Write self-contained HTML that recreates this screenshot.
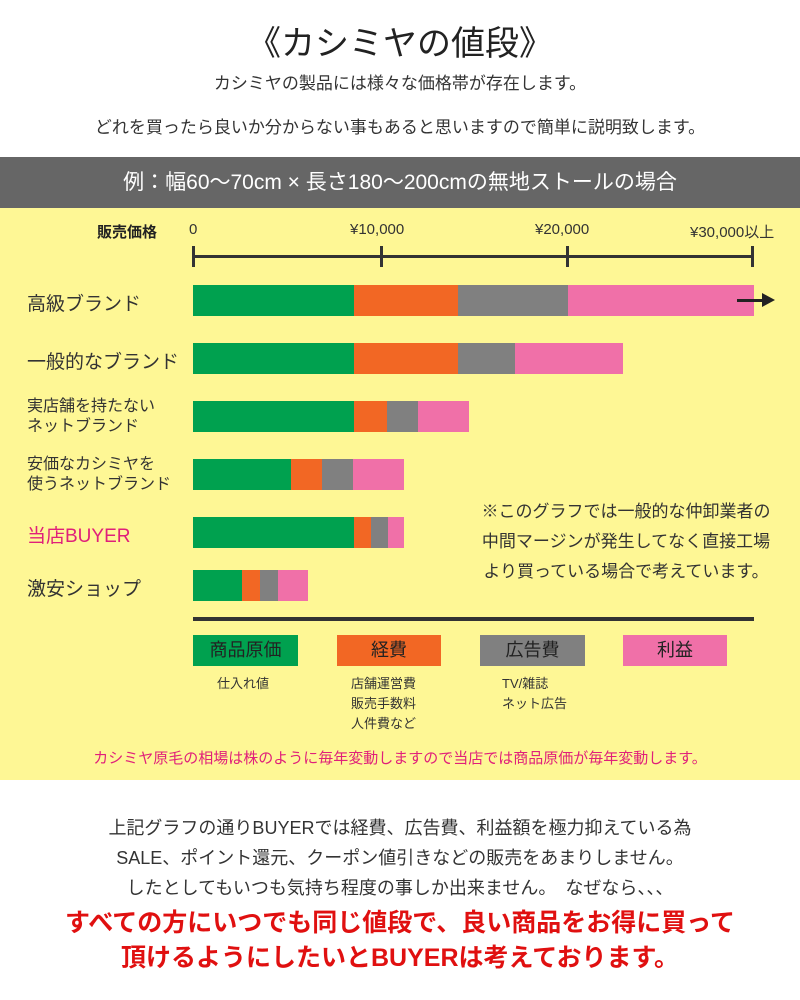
<!DOCTYPE html>
<html><head><meta charset="utf-8"><style>
body{margin:0;width:800px;height:1000px;background:#fff;font-family:"Liberation Sans","Noto Sans CJK JP",sans-serif;color:#333;position:relative;overflow:hidden}
.a{position:absolute;white-space:nowrap}
.c{left:0;width:800px;text-align:center}
.b{position:absolute;height:31px}
.g{background:#00a14f}.o{background:#f26724}.y{background:#808080}.p{background:#f070a8}
</style></head><body>
<div class="a c" style="top:16px;font-size:34px;color:#222">《カシミヤの値段》</div>
<div class="a c" style="top:69px;font-size:17px">カシミヤの製品には様々な価格帯が存在します。</div>
<div class="a c" style="top:113px;font-size:17px">どれを買ったら良いか分からない事もあると思いますので簡単に説明致します。</div>
<div class="a" style="top:157px;left:0;width:800px;height:51px;background:#666;color:#fff;font-size:21px;text-align:center;line-height:51px">例：幅60〜70cm × 長さ180〜200cmの無地ストールの場合</div>
<div class="a" style="top:208px;left:0;width:800px;height:572px;background:#fef795"></div>
<div class="a" style="top:221px;left:97px;font-size:15px;font-weight:bold;color:#222">販売価格</div>
<div class="a" style="top:221px;left:189px;font-size:15px">0</div>
<div class="a" style="top:221px;left:350px;font-size:15px">¥10,000</div>
<div class="a" style="top:221px;left:535px;font-size:15px">¥20,000</div>
<div class="a" style="top:221px;left:690px;font-size:15px">¥30,000以上</div>
<div class="a" style="top:255px;left:193px;width:561px;height:3px;background:#333"></div>
<div class="a" style="top:246px;left:192px;width:3px;height:21px;background:#333"></div>
<div class="a" style="top:246px;left:380px;width:3px;height:21px;background:#333"></div>
<div class="a" style="top:246px;left:566px;width:3px;height:21px;background:#333"></div>
<div class="a" style="top:246px;left:751px;width:3px;height:21px;background:#333"></div>

<div class="a" style="top:289px;left:27px;font-size:19px">高級ブランド</div>
<div class="b g" style="top:285px;left:193px;width:161px"></div><div class="b o" style="top:285px;left:354px;width:104px"></div><div class="b y" style="top:285px;left:458px;width:110px"></div><div class="b p" style="top:285px;left:568px;width:186px"></div>
<div class="a" style="top:299px;left:737px;width:26px;height:3px;background:#222"></div>
<div class="a" style="top:293px;left:762px;width:0;height:0;border-left:13px solid #222;border-top:7px solid transparent;border-bottom:7px solid transparent"></div>

<div class="a" style="top:347px;left:27px;font-size:19px">一般的なブランド</div>
<div class="b g" style="top:343px;left:193px;width:161px"></div><div class="b o" style="top:343px;left:354px;width:104px"></div><div class="b y" style="top:343px;left:458px;width:57px"></div><div class="b p" style="top:343px;left:515px;width:108px"></div>

<div class="a" style="top:397px;left:27px;font-size:16px;line-height:20px">実店舗を持たない<br>ネットブランド</div>
<div class="b g" style="top:401px;left:193px;width:161px"></div><div class="b o" style="top:401px;left:354px;width:33px"></div><div class="b y" style="top:401px;left:387px;width:31px"></div><div class="b p" style="top:401px;left:418px;width:51px"></div>

<div class="a" style="top:455px;left:27px;font-size:16px;line-height:20px">安価なカシミヤを<br>使うネットブランド</div>
<div class="b g" style="top:459px;left:193px;width:98px"></div><div class="b o" style="top:459px;left:291px;width:31px"></div><div class="b y" style="top:459px;left:322px;width:31px"></div><div class="b p" style="top:459px;left:353px;width:51px"></div>

<div class="a" style="top:521px;left:27px;font-size:19px;color:#e0207a">当店BUYER</div>
<div class="b g" style="top:517px;left:193px;width:161px"></div><div class="b o" style="top:517px;left:354px;width:17px"></div><div class="b y" style="top:517px;left:371px;width:17px"></div><div class="b p" style="top:517px;left:388px;width:16px"></div>

<div class="a" style="top:574px;left:27px;font-size:19px">激安ショップ</div>
<div class="b g" style="top:570px;left:193px;width:49px"></div><div class="b o" style="top:570px;left:242px;width:18px"></div><div class="b y" style="top:570px;left:260px;width:18px"></div><div class="b p" style="top:570px;left:278px;width:30px"></div>

<div class="a" style="top:497px;left:458px;width:336px;text-align:center;font-size:17px;line-height:30px">※このグラフでは一般的な仲卸業者の<br>中間マージンが発生してなく直接工場<br>より買っている場合で考えています。</div>

<div class="a" style="top:617px;left:193px;width:561px;height:4px;background:#333"></div>
<div class="b g" style="top:635px;left:193px;width:105px;text-align:center;font-size:18px;line-height:31px;color:#222">商品原価</div>
<div class="b o" style="top:635px;left:337px;width:104px;text-align:center;font-size:18px;line-height:31px;color:#222">経費</div>
<div class="b y" style="top:635px;left:480px;width:105px;text-align:center;font-size:18px;line-height:31px;color:#222">広告費</div>
<div class="b p" style="top:635px;left:623px;width:104px;text-align:center;font-size:18px;line-height:31px;color:#222">利益</div>
<div class="a" style="top:674px;left:217px;font-size:13px;line-height:20px">仕入れ値</div>
<div class="a" style="top:674px;left:351px;font-size:13px;line-height:20px">店舗運営費<br>販売手数料<br>人件費など</div>
<div class="a" style="top:674px;left:502px;font-size:13px;line-height:20px">TV/雑誌<br>ネット広告</div>
<div class="a c" style="top:747px;font-size:15px;color:#e0207a">カシミヤ原毛の相場は株のように毎年変動しますので当店では商品原価が毎年変動します。</div>

<div class="a c" style="top:814px;font-size:18px">上記グラフの通りBUYERでは経費、広告費、利益額を極力抑えている為</div>
<div class="a c" style="top:844px;font-size:18px">SALE、ポイント還元、クーポン値引きなどの販売をあまりしません。</div>
<div class="a c" style="top:874px;font-size:18px">したとしてもいつも気持ち程度の事しか出来ません。　なぜなら、、、</div>
<div class="a c" style="top:903px;font-size:25px;font-weight:bold;color:#e01010">すべての方にいつでも同じ値段で、良い商品をお得に買って</div>
<div class="a c" style="top:938px;font-size:25px;font-weight:bold;color:#e01010">頂けるようにしたいとBUYERは考えております。</div>
</body></html>
